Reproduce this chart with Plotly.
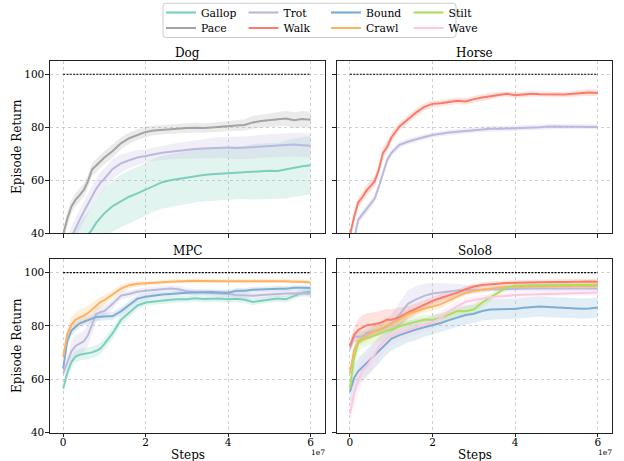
import plotly.graph_objects as go

FONT = "DejaVu Serif"
W, H = 624, 461

# ---------------- data (steps in units of 1e7) ----------------
STEPS = [0, 0.1, 0.2, 0.3, 0.4, 0.5, 0.6, 0.7, 0.8, 0.9, 1.0,
         1.2, 1.4, 1.6, 1.8, 2.0, 2.2, 2.4, 2.6, 2.8, 3.0, 3.2, 3.4, 3.6, 3.8,
         4.0, 4.2, 4.4, 4.6, 4.8, 5.0, 5.2, 5.4, 5.6, 5.8, 6.0]
MAX_RETURN = [100, 100]
MAX_RETURN_STEPS = [0, 6.0]
Y_TICKS = [40, 60, 80, 100]
X_TICKS = [0, 2, 4, 6]
X_TICK_LABELS = ["0", "2", "4", "6"]

# Dog
DOG_GALLOP = [25, 28, 31, 33.5, 35.5, 37.5, 39.3, 41.3, 43.8, 45.8, 47.5,
              50.2, 52.1, 53.7, 55, 56.4, 58.1, 59.2, 59.9, 60.4, 60.9, 61.5, 61.9, 62.2, 62.4,
              62.6, 62.7, 62.9, 63.1, 63.3, 63.5, 63.4, 64, 64.7, 65.2, 65.6]
DOG_GALLOP_SD = [8, 8, 8, 8, 8, 8.5, 8.5, 9, 9, 9, 9.5,
                 9.5, 10, 10, 10, 10, 10, 10, 10, 10, 10, 10, 10, 10, 10,
                 10, 10, 10, 10.5, 10.5, 10.5, 10.5, 11, 11, 11, 11]
DOG_PACE = [39.5, 45.5, 50, 52.5, 54.3, 56.3, 59.5, 64, 65.5, 67.2, 68.5,
            71, 73.9, 75.8, 77.1, 78.2, 78.7, 79, 79.3, 79.6, 79.7, 79.8, 79.7, 79.9, 80.2,
            80.3, 80.6, 80.8, 81.8, 82.3, 82.6, 83, 83.3, 82.6, 83.1, 82.8]
DOG_PACE_SD = [2, 2.5, 2.5, 2.5, 2.5, 2.5, 2.5, 2.5, 2.5, 2.5, 2.5,
               2.5, 2.3, 2.2, 2, 2, 1.8, 1.8, 1.8, 1.8, 1.8, 1.8, 1.8, 1.8, 1.8,
               1.9, 2, 2.2, 2.4, 2.5, 2.6, 2.7, 2.8, 3, 3, 3]
DOG_TROT = [33, 35, 38.5, 42, 45, 48, 51, 54, 56.7, 58.9, 60.5,
            64.2, 66.3, 67.5, 68.5, 69.1, 69.8, 70.3, 70.7, 71.1, 71.4, 71.7, 71.9, 72.1, 72.3,
            72.3, 72.1, 72.3, 72.4, 72.7, 73, 73, 73.2, 73.4, 73.2, 73]
DOG_TROT_SD = [3, 3.5, 4, 4, 4, 4, 4, 4, 4, 4, 4,
               3.8, 3.5, 3, 2.8, 2.5, 2.5, 2.6, 2.8, 3, 3.2, 3.4, 3.6, 3.8, 4,
               4, 4.2, 4.2, 4.3, 4.3, 4.4, 4.4, 4.5, 4.5, 4.5, 4.5]

# Horse
HORSE_TROT = [34, 37.5, 45, 47, 49, 50.8, 53, 57.5, 63, 67.5, 70.2,
              73.3, 74.5, 75.5, 76.3, 77, 77.6, 78, 78.3, 78.6, 78.9, 79.2, 79.4, 79.4, 79.5,
              79.5, 79.7, 79.8, 80, 80.2, 80.2, 80.3, 80.3, 80.2, 80.3, 80.1]
HORSE_TROT_SD = [1.5, 1.5, 1.5, 1.5, 1.5, 1.5, 1.5, 1.5, 1.5, 1.5, 1.3,
                 1.2, 1.1, 1, 1, 1, 1, 1, 1, 1, 1, 1, 1, 1, 1,
                 1, 1, 1, 1, 1, 1, 1, 1, 1, 1, 1]
HORSE_WALK = [39, 46, 51.5, 53.5, 56, 57.8, 59.5, 64, 70.3, 72.5, 76,
              80.3, 83, 85.5, 87.7, 88.8, 89, 89.6, 90, 89.7, 90.6, 91.2, 91.6, 92.2, 92.6,
              92.1, 92.3, 92.6, 92.4, 92.3, 92.4, 92.3, 92.6, 92.8, 93.1, 92.9]
HORSE_WALK_SD = [1.5, 2, 2, 2, 2, 2, 2, 2, 2, 2, 1.8,
                 1.5, 1.5, 1.5, 1.3, 1.2, 1.2, 1.2, 1.2, 1.2, 1.2, 1.2, 1.2, 1, 1,
                 1, 1, 1, 1, 1, 1, 1, 1.1, 1.2, 1.2, 1.2]

# MPC
MPC_GALLOP = [56.6, 62.5, 66.5, 68.5, 69.2, 69.5, 69.7, 70.1, 70.7, 71.5, 73.3,
              77.3, 82.3, 85, 87.7, 88.8, 89.2, 89.5, 89.8, 90, 90, 90.4, 90.1, 90.2, 90.3,
              90, 90.2, 89.8, 89, 89.5, 90, 90.3, 90, 91.2, 92.5, 92.8]
MPC_GALLOP_SD = [1.5, 2, 2.2, 2.2, 2.2, 2.2, 2.2, 2.2, 2.2, 2.2, 2.2,
                 2.2, 2, 1.8, 1.5, 1.3, 1.2, 1.2, 1.2, 1.2, 1.2, 1.2, 1.2, 1.2, 1.2,
                 1.2, 1.2, 1.2, 1.2, 1.2, 1.2, 1.2, 1.2, 1.2, 1.2, 1.2]
MPC_TROT = [62.2, 66.5, 70.5, 72.5, 73.5, 74.3, 76.5, 80.8, 84.5, 85.2, 85.6,
            88.3, 91.4, 92, 92.8, 93.2, 93.5, 93.8, 94.1, 93.8, 93, 92.7, 92.5, 92.4, 92.3,
            92, 91.6, 91.4, 91.3, 91.6, 91.7, 92, 92.2, 92.3, 92.3, 92]
MPC_TROT_SD = [1.5, 2.5, 3.5, 4, 4, 4, 4, 3.5, 3, 2.5, 2,
               1.8, 1.5, 1.3, 1.2, 1.2, 1.2, 1.2, 1.2, 1.2, 1.2, 1.2, 1.2, 1.2, 1.2,
               1.2, 1.2, 1.2, 1.2, 1.2, 1.2, 1.2, 1.2, 1.2, 1.2, 1.2]
MPC_BOUND = [64, 74.5, 78.3, 79.8, 81, 81.6, 82.2, 82.8, 83.4, 83.5, 83.5,
             83.7, 85.5, 88, 90.2, 91, 91.5, 91.8, 92, 92.3, 92.5, 92.6, 92.7, 92.7, 92.6,
             92.5, 93.2, 93.2, 93.6, 93.8, 93.9, 94, 94, 94.3, 94.3, 94.2]
MPC_BOUND_SD = [1.5, 2, 2, 1.8, 1.5, 1.5, 1.5, 1.5, 1.5, 1.5, 1.5,
                1.5, 1.5, 1.5, 1.3, 1.2, 1, 1, 1, 1, 1, 1, 1, 1, 1,
                1, 1, 1, 1, 1, 1, 1, 1, 1, 1, 1]
MPC_CRAWL = [68.5, 77, 80.5, 82.3, 83.2, 83.8, 84.8, 86.3, 87.8, 89, 89.7,
             91.9, 94, 95.3, 95.8, 96, 96.1, 96.4, 96.6, 96.8, 96.9, 97, 96.9, 96.8, 96.8,
             96.8, 96.8, 96.7, 96.8, 96.8, 96.8, 96.9, 96.8, 96.6, 96.6, 96.3]
MPC_CRAWL_SD = [1.5, 2.5, 3, 3, 3, 3, 2.8, 2.5, 2.2, 2, 1.8,
                1.6, 1.4, 1.2, 1, 1, 0.9, 0.9, 0.8, 0.8, 0.8, 0.8, 0.8, 0.8, 0.8,
                0.8, 0.8, 0.8, 0.8, 0.8, 0.8, 0.8, 0.8, 0.8, 0.8, 0.8]

# Solo8
SOLO_TROT = [71.5, 76, 76, 76, 77.3, 77.8, 78.2, 78.5, 79, 79.8, 80.8,
             84.2, 88.3, 90, 91.3, 92.2, 92.6, 93.1, 93.3, 93.5, 93.6, 93.7, 93.8, 93.9, 94,
             94.1, 94.1, 94.1, 94.1, 94.1, 94.1, 94.1, 94.1, 94.1, 94.2, 94.1]
SOLO_TROT_SD = [2, 2, 2, 2, 2, 2, 2, 2.2, 2.5, 3, 3.5,
                4.5, 5, 5, 4.5, 4, 3.5, 3, 2.5, 2, 1.5, 1.2, 1, 1, 1,
                1, 1, 1, 1, 1, 1, 1, 1, 1, 1, 1]
SOLO_WALK = [72.5, 76.5, 78.5, 79.5, 80.2, 80.5, 80.7, 81, 81.6, 82.4, 82.3,
             83.3, 85, 86.5, 88, 89.4, 90.5, 91.5, 92.5, 93.8, 94.8, 95.4, 95.7, 95.9, 96.1,
             96.2, 96.3, 96.3, 96.4, 96.5, 96.5, 96.5, 96.6, 96.6, 96.7, 96.6]
SOLO_WALK_SD = [2, 3, 4, 4.5, 4.5, 4.5, 4.5, 4.5, 4.5, 4, 4,
                3.5, 2.5, 2, 1.8, 1.5, 1.5, 1.3, 1.2, 1.2, 1, 1, 1, 1, 1,
                1, 1, 1, 1, 1, 1, 1, 1, 1, 1, 1]
SOLO_BOUND = [55.4, 60.5, 63, 64.5, 66, 67.7, 69.2, 70.8, 72.3, 73.8, 75.2,
              76.6, 77.8, 78.7, 79.5, 80.3, 81.1, 82.2, 83.2, 84.1, 84.6, 85.6, 86.2, 86.3, 86.3,
              86.4, 86.8, 87.1, 87.3, 87.1, 86.9, 86.8, 86.7, 86.5, 86.6, 86.9]
SOLO_BOUND_SD = [5, 5, 5, 5, 5, 5, 5, 5, 4.5, 4.5, 4.5,
                 4.5, 4, 4, 3.5, 3.5, 3.5, 3.5, 3.5, 3.5, 3.5, 3.5, 3.8, 3.8, 3.8,
                 3.8, 3.8, 3.8, 3.8, 3.8, 3.8, 3.8, 3.8, 3.8, 3.8, 3.8]
SOLO_CRAWL = [62.2, 71, 74.3, 75.3, 76.2, 77.2, 77.9, 78.6, 79.6, 80.2, 80.8,
              82.6, 84.4, 85.6, 86.5, 87.3, 88.2, 89.6, 91.1, 92.5, 93.1, 93.6, 94.1, 94.4, 94.6,
              94.75, 94.8, 94.8, 94.8, 94.9, 94.9, 94.9, 95, 95, 95, 95]
SOLO_CRAWL_SD = [1.5, 2, 2, 2, 2, 2, 2, 2, 2, 2, 2,
                 2, 1.8, 1.5, 1.5, 1.5, 1.5, 1.3, 1.2, 1, 1, 0.9, 0.8, 0.8, 0.8,
                 0.8, 0.8, 0.8, 0.8, 0.8, 0.8, 0.8, 0.8, 0.8, 0.8, 0.8]
SOLO_STILT = [56.6, 68, 73.5, 74.8, 75.3, 75.8, 76.5, 77.2, 77.8, 78.3, 78.5,
              79.9, 80.8, 81.6, 82.3, 82.3, 83, 84.3, 85.6, 85.5, 86.2, 88.8, 90.8, 92.8, 94.5,
              95.1, 95.2, 95.3, 95.4, 95.4, 95.5, 95.5, 95.5, 95.5, 95.6, 95.5]
SOLO_STILT_SD = [3, 3.5, 3, 3, 3, 3, 3, 3, 3, 3, 3,
                 2.8, 2.5, 2.2, 2, 2, 2, 2, 2, 2, 2, 1.8, 1.5, 1.2, 1,
                 0.8, 0.8, 0.8, 0.8, 0.8, 0.8, 0.8, 0.8, 0.8, 0.8, 0.8]
SOLO_WAVE = [47, 54.5, 59.5, 63.2, 64.8, 67, 69.5, 72, 74, 75.5, 76.4,
             77.6, 78.5, 79.4, 80.4, 81.3, 83, 85.5, 87.4, 89, 89.7, 90.3, 90.8, 91.1, 91.4,
             91.6, 91.7, 91.8, 92, 92.1, 92.2, 92.3, 92.4, 92.5, 92.6, 92.6]
SOLO_WAVE_SD = [5, 5, 5, 4.5, 4.5, 4.5, 4.5, 4, 4, 3.5, 3.5,
                3, 2.8, 2.5, 2.5, 2.5, 2.5, 2.2, 2, 1.8, 1.5, 1.3, 1.2, 1.1, 1,
                1, 1, 1, 1, 1, 1, 1, 1, 1, 1, 1]

GAITS = ["Gallop", "Pace", "Trot", "Walk", "Bound", "Crawl", "Stilt", "Wave"]
COLORS = {
    "Gallop": (124, 207, 188),
    "Pace": (163, 163, 163),
    "Trot": (188, 184, 222),
    "Walk": (251, 123, 107),
    "Bound": (126, 173, 211),
    "Crawl": (253, 180, 98),
    "Stilt": (174, 221, 98),
    "Wave": (251, 200, 226),
}

PANELS = [
    ("Dog", [("Gallop", DOG_GALLOP, DOG_GALLOP_SD), ("Pace", DOG_PACE, DOG_PACE_SD),
             ("Trot", DOG_TROT, DOG_TROT_SD)]),
    ("Horse", [("Trot", HORSE_TROT, HORSE_TROT_SD), ("Walk", HORSE_WALK, HORSE_WALK_SD)]),
    ("MPC", [("Gallop", MPC_GALLOP, MPC_GALLOP_SD), ("Trot", MPC_TROT, MPC_TROT_SD),
             ("Bound", MPC_BOUND, MPC_BOUND_SD), ("Crawl", MPC_CRAWL, MPC_CRAWL_SD)]),
    ("Solo8", [("Trot", SOLO_TROT, SOLO_TROT_SD), ("Walk", SOLO_WALK, SOLO_WALK_SD),
               ("Bound", SOLO_BOUND, SOLO_BOUND_SD), ("Crawl", SOLO_CRAWL, SOLO_CRAWL_SD),
               ("Stilt", SOLO_STILT, SOLO_STILT_SD), ("Wave", SOLO_WAVE, SOLO_WAVE_SD)]),
]

# ---------------- layout geometry (pixels) ----------------
COL_X = [(50, 325), (336.7, 612.3)]
ROW_Y = [(61, 233), (259.3, 432.7)]


def rgb(c, a=None):
    if a is None:
        return "rgb(%d,%d,%d)" % c
    return "rgba(%d,%d,%d,%.2f)" % (c[0], c[1], c[2], a)


def px(xp):
    return xp / W


def py(yp):
    return 1 - yp / H


fig = go.Figure()

# bands (below all lines)
for i, (title, series) in enumerate(PANELS):
    suf = "" if i == 0 else str(i + 1)
    for name, mean, sd in series:
        upper = [m + s for m, s in zip(mean, sd)]
        lower = [m - s for m, s in zip(mean, sd)]
        fig.add_trace(go.Scatter(
            x=STEPS + STEPS[::-1], y=upper + lower[::-1],
            fill="toself", fillcolor=rgb(COLORS[name], 0.22),
            line=dict(width=0), mode="lines", hoverinfo="skip", showlegend=False,
            xaxis="x" + suf, yaxis="y" + suf))

# mean lines and reference line
for i, (title, series) in enumerate(PANELS):
    suf = "" if i == 0 else str(i + 1)
    for name, mean, sd in series:
        fig.add_trace(go.Scatter(
            x=STEPS, y=mean, mode="lines", name=name,
            line=dict(color=rgb(COLORS[name]), width=2),
            showlegend=False, xaxis="x" + suf, yaxis="y" + suf))
    fig.add_trace(go.Scatter(
        x=MAX_RETURN_STEPS, y=MAX_RETURN, mode="lines",
        line=dict(color="black", width=1.1, dash="2px,1.3px"),
        showlegend=False, hoverinfo="skip", xaxis="x" + suf, yaxis="y" + suf))

# legend entries: two rows (matplotlib column-major order)
ROW1 = ["Gallop", "Trot", "Bound", "Stilt"]
ROW2 = ["Pace", "Walk", "Crawl", "Wave"]
for leg, names in (("legend", ROW1), ("legend2", ROW2)):
    for name in names:
        fig.add_trace(go.Scatter(
            x=[None], y=[None], mode="lines", name=name,
            line=dict(color=rgb(COLORS[name]), width=2.2),
            showlegend=True, legend=leg))

axis_common = dict(
    showline=True, linecolor="#222222", linewidth=1.1, mirror=True,
    ticks="outside", ticklen=3.5, tickwidth=1, tickcolor="#222222",
    showgrid=True, gridcolor="#c4c4c4", griddash="dot", gridwidth=0.8,
    zeroline=False, automargin=False,
    tickfont=dict(family=FONT, size=10.5, color="black"),
)

layout = dict(
    width=W, height=H, margin=dict(l=0, r=0, t=0, b=0, autoexpand=False),
    paper_bgcolor="white", plot_bgcolor="white",
    font=dict(family=FONT, color="black"),
    showlegend=True,
)

for i in range(4):
    r, c = divmod(i, 2)
    suf = "" if i == 0 else str(i + 1)
    x0, x1 = COL_X[c]
    y0, y1 = ROW_Y[r]
    layout["xaxis" + suf] = dict(
        axis_common, domain=[px(x0), px(x1)], range=[-0.32, 6.35],
        tickvals=X_TICKS, ticktext=X_TICK_LABELS, showticklabels=(r == 1),
        ticklabelstandoff=-4, anchor="y" + suf)
    layout["yaxis" + suf] = dict(
        axis_common, domain=[py(y1), py(y0)], range=[40, 105],
        tickvals=Y_TICKS, showticklabels=(c == 0), ticklabelstandoff=-1,
        anchor="x" + suf)

leg_common = dict(
    orientation="h", xanchor="left", yanchor="middle",
    bgcolor="rgba(0,0,0,0)", borderwidth=0,
    font=dict(family=FONT, size=10.8, color="black"),
    entrywidth=37.5, entrywidthmode="pixels", itemclick=False,
)
layout["legend"] = dict(leg_common, x=px(166 - 5), y=py(12.5))
layout["legend2"] = dict(leg_common, x=px(166 - 5), y=py(28))

annotations = []
for i, (title, _) in enumerate(PANELS):
    r, c = divmod(i, 2)
    x0, x1 = COL_X[c]
    y0, _y1 = ROW_Y[r]
    annotations.append(dict(
        text=title, x=px((x0 + x1) / 2), y=py(y0 - 7.8), xref="paper", yref="paper",
        showarrow=False, xanchor="center", yanchor="middle",
        font=dict(family=FONT, size=12, color="black")))
for r in range(2):
    y0, y1 = ROW_Y[r]
    annotations.append(dict(
        text="Episode Return", x=px(17), y=py((y0 + y1) / 2), xref="paper", yref="paper",
        showarrow=False, xanchor="center", yanchor="middle", textangle=-90,
        font=dict(family=FONT, size=12, color="black")))
for c in range(2):
    x0, x1 = COL_X[c]
    annotations.append(dict(
        text="Steps", x=px((x0 + x1) / 2), y=py(454.5), xref="paper", yref="paper",
        showarrow=False, xanchor="center", yanchor="middle",
        font=dict(family=FONT, size=12, color="black")))
    annotations.append(dict(
        text="1e7", x=px(x1 - 7), y=py(452), xref="paper", yref="paper",
        showarrow=False, xanchor="center", yanchor="middle",
        font=dict(family=FONT, size=7.5, color="black")))
layout["annotations"] = annotations

# rounded legend frame
bx0, bx1, by0, by1, rr = 163, 456, 3.3, 37.5, 3
pts = [
    ("M", bx0 + rr, by0), ("L", bx1 - rr, by0), ("Q", bx1, by0, bx1, by0 + rr),
    ("L", bx1, by1 - rr), ("Q", bx1, by1, bx1 - rr, by1), ("L", bx0 + rr, by1),
    ("Q", bx0, by1, bx0, by1 - rr), ("L", bx0, by0 + rr), ("Q", bx0, by0, bx0 + rr, by0),
]
path = ""
for p in pts:
    cmd = p[0]
    coords = p[1:]
    s = []
    for k in range(0, len(coords), 2):
        s.append("%.5f,%.5f" % (px(coords[k]), py(coords[k + 1])))
    path += cmd + " ".join(s) + " "
path += "Z"
layout["shapes"] = [dict(type="path", path=path, xref="paper", yref="paper",
                         line=dict(color="#cccccc", width=1), fillcolor="white",
                         layer="below")]

fig.update_layout(**layout)
fig.write_html(
    "out.html",
    config={"displayModeBar": False, "staticPlot": True},
    post_script="document.body.style.margin='0px';document.body.style.padding='0px';"
                "document.body.style.overflow='hidden';",
)
